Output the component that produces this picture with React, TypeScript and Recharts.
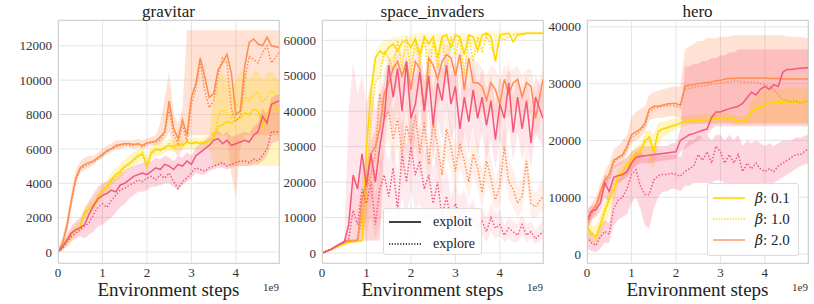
import React from "react";
import { ComposedChart, Line, Area, XAxis, YAxis, CartesianGrid } from "recharts";

// steps in units of 1e9
const steps = [
  0, 0.1, 0.2, 0.3, 0.4, 0.5, 0.6, 0.7, 0.8, 0.9, 1.0, 1.1, 1.2, 1.3, 1.4, 1.5, 1.6, 1.7, 1.8, 1.9, 2.0, 2.1, 2.2, 2.3, 2.4,
  2.5, 2.6, 2.7, 2.8, 2.9, 3.0, 3.1, 3.2, 3.3, 3.4, 3.5, 3.6, 3.7, 3.8, 3.9, 4.0, 4.1, 4.2, 4.3, 4.4, 4.5, 4.6, 4.7, 4.8, 4.97,
];

// all scores below are in thousands
// gravitar
const gravOrangeExploit = [0,0.5,1.5,3.0,4.3,4.9,5.1,5.2,5.3,5.5,5.7,5.9,6.0,6.2,6.25,6.3,6.3,6.25,6.3,6.2,6.35,6.4,6.45,6.7,7.0,8.8,7.2,6.6,7.7,6.8,9.0,9.8,11.3,10.2,9.0,9.2,10.6,11.0,11.5,10.4,8.0,8.2,10.8,12.2,12.4,12.1,12.0,12.5,12.0,11.9];
const gravOrangeExplore = [0,0.5,1.4,2.9,4.2,4.8,5.0,5.1,5.25,5.4,5.6,5.8,6.0,6.1,6.2,6.25,6.2,6.2,6.3,6.1,6.3,6.35,6.4,6.5,6.9,8.3,6.8,6.3,7.4,6.4,8.6,9.5,11.0,9.4,8.4,8.8,10.2,11.3,11.0,8.3,7.6,7.9,10.0,11.4,11.2,11.0,11.6,12.0,11.0,11.6];
const gravYellowExploit = [0,0.3,0.6,1.0,1.3,1.5,2.3,2.5,2.8,3.2,3.6,3.8,4.2,4.5,4.7,5.0,5.1,5.4,5.6,5.7,5.0,5.8,6.0,5.9,6.1,6.2,6.1,6.3,6.2,6.4,6.3,6.4,6.3,6.4,6.5,6.6,7.3,7.4,7.6,7.5,7.7,7.8,8.1,8.0,8.3,8.2,7.3,8.0,8.6,8.2];
const gravYellowExplore = [0,0.3,0.6,0.9,1.2,1.5,2.2,2.4,2.7,3.1,3.5,3.7,4.1,4.4,4.6,4.9,5.2,5.3,5.5,5.8,5.1,5.7,5.9,6.0,6.0,6.3,6.2,6.2,6.3,6.3,6.4,6.3,6.4,6.3,6.4,6.8,7.8,8.3,8.1,7.8,8.6,8.4,9.0,8.8,9.2,9.3,8.7,9.0,9.4,8.9];
const gravPinkExploit = [0,0.3,0.7,1.1,1.3,1.4,1.6,2.2,2.7,3.1,3.3,3.4,3.6,3.5,3.9,4.0,4.2,4.4,4.5,4.6,4.5,4.7,4.9,4.8,5.1,5.0,4.8,5.1,5.0,5.3,5.1,5.6,5.8,6.0,6.2,6.5,6.6,6.3,6.5,6.2,6.3,6.4,6.5,6.4,6.8,7.0,7.9,7.5,8.6,8.8];
const gravPinkExplore = [0,0.2,0.6,0.9,1.1,1.3,1.5,1.7,2.2,2.6,2.8,2.6,3.0,3.3,3.6,3.7,3.9,4.0,4.2,4.1,4.3,4.4,4.2,4.5,4.3,4.6,4.1,3.7,4.1,4.3,4.6,4.9,4.8,4.7,4.9,5.0,5.1,5.2,5.0,5.1,5.2,5.3,5.3,5.2,5.4,5.3,5.6,6.0,7.0,7.0];
const gravOrangeLo = [0,0.3,1.1,2.5,3.9,4.6,4.8,4.9,5.1,5.3,5.5,5.7,5.8,6.0,6.0,6.1,6.1,6.0,6.1,6.0,6.1,6.2,6.2,6.3,6.5,7.0,6.0,5.5,6.0,6.7,6.8,6.8,6.8,6.8,6.8,6.8,6.8,6.8,6.8,4.5,3.2,6.0,6.8,6.8,6.8,6.8,6.8,6.8,6.8,6.8];
const gravOrangeHi = [0.2,0.9,2.0,3.5,4.8,5.3,5.5,5.6,5.6,5.8,6.0,6.2,6.3,6.5,6.5,6.5,6.5,6.5,6.6,6.5,6.6,6.7,6.8,7.5,9.0,10.5,8.0,7.5,8.3,12.9,12.9,12.9,12.9,12.9,12.9,12.9,12.9,12.9,12.9,12.9,12.9,12.9,12.9,12.9,12.9,12.9,12.9,12.9,12.9,12.9];
const gravYellowLo = [0,0.1,0.4,0.7,1.0,1.2,1.9,2.1,2.4,2.8,3.2,3.4,3.8,4.1,4.3,4.6,4.8,5.0,5.2,5.3,4.7,5.4,5.6,5.6,5.8,5.9,5.8,5.9,5.9,6.0,6.0,6.0,6.0,6.1,6.1,5.0,5.0,5.0,5.0,5.0,5.0,5.0,5.0,5.0,5.0,5.0,5.0,5.0,5.0,5.0];
const gravYellowHi = [0.1,0.5,0.9,1.3,1.6,1.8,2.6,2.9,3.1,3.5,3.9,4.2,4.6,4.9,5.1,5.4,5.6,5.8,6.0,6.1,5.6,6.2,6.4,6.3,6.4,6.6,6.5,6.6,6.5,6.7,6.6,6.7,6.6,6.7,6.8,9.0,10.0,10.5,10.0,9.5,10.0,10.5,10.5,10.0,10.5,10.5,10.0,10.5,10.5,10.0];
const gravPinkLo = [0,0.1,0.3,0.6,0.8,0.9,0.8,1.0,1.2,1.5,1.6,1.8,2.0,2.3,2.6,2.8,3.1,3.3,3.5,3.5,3.6,3.8,3.8,3.9,4.0,4.0,3.8,3.6,3.9,4.1,4.3,4.6,4.5,4.5,4.7,4.8,4.9,4.9,4.8,4.9,5.0,5.0,5.0,5.0,5.1,5.1,5.3,5.6,6.3,6.5];
const gravPinkHi = [0.1,0.5,1.0,1.5,1.8,2.0,2.5,3.0,3.4,3.8,4.0,4.1,4.3,4.3,4.6,4.7,4.9,5.0,5.1,5.2,5.2,5.3,5.5,5.4,5.6,5.5,5.3,5.6,5.5,5.8,5.6,6.1,6.3,6.5,6.7,7.0,7.1,6.8,7.0,6.7,6.8,6.9,7.0,6.9,7.3,7.5,8.4,8.0,9.0,9.2];

// space_invaders
const siYellowExploit = [0,0.5,1.0,1.5,2.0,2.5,3.0,3.2,3.3,3.5,30,45,55,57,56,58,59,57,59.5,60,58,60.5,56,61,59,61,55,61,61.5,58,61.5,61,56,61.5,61,57,61.5,62,61,54,61.5,61.8,62,59.5,61.5,61.8,62,62,62,62];
const siYellowExplore = [0,0.5,1.0,1.5,2.0,2.5,3.0,3.2,3.3,3.5,15,38,48,50,57,55,52,60,52,61,50,60,53,61.5,49,60,52,61,50,61,56,61,50,61.5,54,61,57,61.5,58,55,61,60,61,61.5,62,61.5,62,62,62,62];
const siOrangeExploit = [0,0.5,1.0,1.8,2.5,3.3,3.4,3.5,3.6,15,20,28,30,35,45,48,52,54,50,54,46,54,52,40,55,53,49,54,56,55,50,56,46,55,48,48,47,43,48,46,42,49,45,48,49,44,48,47,38,49];
const siOrangeExplore = [0,0.5,1.0,1.8,2.5,3.3,3.4,3.5,3.6,10,18,22,28,45,38,40,32,38,28,36,31,39,28,37,25,37,30,22,35,30,23,31,26,20,28,24,17,26,21,15,19,30,20,18,14,16,26,14,13,16];
const siPinkExploit = [0,0.5,1.0,1.8,2.5,3.0,8,22,18,28,19,28,20,30,38,53,44,52,40,54,38,42,51,40,50,36,48,43,53,42,47,35,44,37,46,38,44,36,43,32,42,38,48,34,44,35,43,31,44,38];
const siPinkExplore = [0,0.5,1.0,1.8,2.5,3.0,4,12,8,18,14,20,8,18,22,16,24,12,28,20,30,22,26,18,22,14,20,10,16,9,14,10,12,8,10,7,9,6,10,7,8,5,7,6,5,8,5,6,4,6];
const siYellowLo = [0,0.3,0.8,1.2,1.7,2.2,2.7,2.9,3.0,3.2,10,34,48,52,54,54,54,56,55,57,54,57,55,58,55,58,55,58,56,58,58,59,56,59,58,58,59,60,59,56,60,60,61,60,61,61,61.5,61.5,61.5,61.5];
const siYellowHi = [0.2,0.8,1.3,1.8,2.3,2.8,3.3,3.5,3.7,4.0,40,50,57,59,60,60,61,61,61.5,61.5,61.5,62,62,62,62,62,62,62,62,62,62,62,62,62,62,62,62,62.5,62.5,62.5,62.5,62.5,62.5,62.5,62.5,62.5,62.5,62.5,62.5,62.5];
const siOrangeExploitLo = [0,0.3,0.8,1.5,2.2,3.0,3.1,3.2,3.3,3.5,3.5,3.5,3.5,3.5,36,40,44,46,42,46,38,46,44,34,46,44,40,46,48,46,42,48,38,46,40,40,40,36,40,38,35,41,38,40,41,37,40,39,32,41];
const siOrangeExploitHi = [0.2,0.8,1.3,2.1,2.9,3.6,3.8,3.9,4.0,22,28,32,34,40,52,54,56,58,56,58,54,58,57,50,58,57,55,58,59,58,56,58,54,58,54,54,52,50,53,52,49,53,51,52,53,50,52,52,45,52];
const siOrangeExploreLo = [0,0.3,0.8,1.5,2.2,3.0,3.1,3.2,3.3,5,10,14,20,35,30,32,25,30,21,28,24,30,21,29,18,29,23,16,27,23,17,24,20,15,22,18,12,20,16,11,14,23,15,13,10,12,20,10,10,12];
const siOrangeExploreHi = [0.2,0.8,1.3,2.1,2.9,3.6,3.8,3.9,4.0,16,26,30,36,52,46,48,40,46,36,44,38,47,36,45,32,45,37,29,43,37,30,38,33,26,35,31,23,33,27,20,25,37,26,24,19,21,33,19,17,21];
const siPinkExploitLo = [0,0.3,0.8,1.5,2.2,2.7,3.0,3.5,3.5,3.5,3.5,3.5,3.5,3.5,28,40,34,40,30,42,28,32,40,30,40,26,38,32,42,32,36,26,34,28,36,28,34,26,32,24,32,28,36,26,34,26,32,24,34,30];
const siPinkExploitHi = [0.2,0.8,1.3,2.1,2.8,3.4,40,54,45,50,42,48,40,45,48,56,52,56,50,56,48,50,56,48,55,46,55,52,56,50,54,44,52,46,54,47,52,46,50,42,50,46,54,44,50,45,50,42,50,46];
const siPinkExploreLo = [0,0.3,0.8,1.5,2.2,2.7,3.0,4,4,8,6,10,4,8,12,8,14,6,16,10,18,12,14,10,12,8,10,5,8,5,8,6,7,4,6,4,5,3,6,4,5,3,4,3,3,5,3,4,2.5,4];
const siPinkExploreHi = [0.2,0.8,1.3,2.1,2.8,3.4,8,20,16,26,22,28,16,26,30,26,32,22,38,30,40,32,36,28,30,24,30,18,24,16,20,16,18,13,15,11,13,10,14,11,12,8,10,9,8,11,8,9,6.5,9];

// hero
const heroOrangeExploit = [5.5,7.5,8.5,11,13,14,16.5,17,17.5,19,21,21.5,22,23,25.5,26,26,26.2,26.4,26.5,26.5,26.2,29.5,29.7,29.8,30,30.1,30.2,30.3,30.5,30.6,30.8,30.9,30.9,31,31,31,31,31,31,31,30.9,30.9,30.9,30.8,30.8,30.8,30.8,30.8,30.8];
const heroOrangeExplore = [5,7,8.2,10.5,12.5,13.5,16,16.8,17.2,18.5,20.5,21,21.7,22.5,25,25.6,25.8,26,26.1,26.2,26,25.8,29,29.2,29.3,29.5,29.6,29.7,29.9,30,30.1,30.2,30.3,30.4,30.4,30.3,30.3,30.3,30.2,30,29.8,29.5,29,28,27.2,27,26.8,27,26.6,27];
const heroYellowExploit = [5,3.5,3,5,7.5,9.5,11,13.5,14.5,15.5,16.5,17.5,18,20,20.5,18,21.5,22,22.2,22.5,22.7,23,23.3,23.5,23.5,23.6,23.6,23.7,23.8,23.8,23.9,24,24,23.6,23.4,23.4,23.5,25,25.5,25.8,26.2,26.5,26.6,26.7,26.7,26.8,26.7,26.8,26.7,26.8];
const heroYellowExplore = [4.5,3.8,3.2,5.5,8,10,11.5,13.8,14.8,15.8,16.8,17.8,18.2,19.5,20.8,18.2,21.6,22.1,22.3,22.6,22.8,23.1,23.3,23.4,23.5,23.6,23.7,23.7,23.8,23.9,24,24,24.1,23.7,23.5,23.5,23.6,25.2,25.7,26,26.4,26.7,26.8,26.9,27.2,27,26.9,27,26.9,27];
const heroPinkExploit = [6,7.5,7.8,9,12.5,11,13.5,13.8,14,14.5,16,17,17.2,17.3,17.4,17.5,17.6,17.7,17.8,17.9,18,20,20.5,21,21.2,21.5,21.8,22,24,25,25,25.3,25.6,25.8,26,26.5,27.5,28.5,28,29,29.5,29,29.8,29.5,32,32.5,32.5,32.6,32.7,32.8];
const heroPinkExplore = [3,2,1.5,3,4,3.5,8,9.5,10,11.5,14,14.8,12,10.5,10.5,13,13.8,14,14,14.2,14,13.7,14.5,15,15.5,17.5,16.5,18,16,19,18,16,17.5,16,17.5,14.5,16,15,16,15,14.5,15,14.5,15.5,16,16.5,17,17.5,17.5,18.5];
const heroOrangeLo = [4,6,7,9.5,11.5,12.5,15,15.5,16,17.5,19.5,20,20.5,21.5,23.5,23.8,24,24,24.2,24.3,24.2,24,23,23,23,23,23,23,23,23,23,23,23,23,23,23,23,23,23,23,23,23,23,23,23,23,23,23,23,23];
const heroOrangeHi = [7,9,10,12.5,14.5,16,18.5,19,20,21,24,25,25.5,26,28,28.5,28.7,29,29.2,29.4,29.5,29.5,36,36.5,37,37.5,37.5,38,38,38,38.2,38.3,38.3,38.5,38.5,38.5,38.5,38.5,38.5,38.5,38.5,38.5,38.5,38.5,38.5,38.3,38.3,38.2,38.2,38];
const heroYellowLo = [3,2,1.8,3,5,7,9,12,13,14,15,16,16.5,17.5,16,15,19,20.5,21,21.5,22,22.3,22.5,22.8,22.8,22.9,22.9,23,23,23,23.1,23.2,23.2,22.8,22.7,22.7,22.8,23,23,23,23,23,23,23,23,23,23,23,23,23];
const heroYellowHi = [7,5,5,7,9.5,11.5,13,15,16,17,18,19,19.5,21.5,22,21,23,23.3,23.5,23.7,23.9,24.1,24.3,24.4,24.5,24.5,24.6,24.6,24.7,24.7,24.8,24.8,24.8,24.5,24.3,24.3,24.5,27,28,28.5,29,29,29,29,29,29.3,29.3,29.3,29.3,29.3];
const heroPinkExploitLo = [4,6,6.5,7.5,10,9,12,12.5,13,13.5,14.5,15.5,16,16,16,16.2,16.3,16.4,16.5,16.6,16.8,18,18.5,19,19.5,20,20.5,21,22,22.5,22.5,22.5,22.5,22.5,22.5,22.5,22.5,22.5,22.5,22.5,22.5,22.5,22.5,22.5,22.5,22.5,22.5,22.5,22.5,22.5];
const heroPinkExploitHi = [8,8.5,9,11,14,13.5,15.5,16,16.5,17,18,18.5,19,19,19,19,19,19,19,19.5,19.5,22,33,33,33.5,33.5,34,34,34.5,34.5,35,35,35.5,35.5,36,36,36,36,36,36,36,36,36,36,36,36,36,36,36,36];
const heroPinkExploreLo = [1,0.5,0.3,1,2,2,5,6,6.5,7,9,10,8,5,4.5,8,10,11,11,11.5,11.5,11,12,12,12.5,12.5,12.5,12.5,12.5,13,13,12.5,12.5,12.5,12.5,12,12.5,12.5,12.5,12.5,12.5,12.5,12.5,13,13.5,14,14.5,15,15.5,16];
const heroPinkExploreHi = [5,4,3,5,6,5.5,11,13,14,15,17,18,18,17,17,18,17.5,17.5,17.5,17.5,17.5,17,19,20,20,21,20.5,21,20,21,21,20,21,20,21,19,20,19.5,20,19.5,19,19.5,19,19.5,20,20,20,20.5,20.5,21];

const xTicks = [0, 1, 2, 3, 4];
const gravTicks = [0, 2000, 4000, 6000, 8000, 10000, 12000];
const siTicks = [0, 10000, 20000, 30000, 40000, 50000, 60000];
const heroTicks = [0, 10000, 20000, 30000, 40000];

const YELLOW = "#FFD700";
const ORANGE = "#FF8C50";
const PINK = "#F5577A";
const FONT = "'Liberation Serif', 'Times New Roman', Times, serif";

type Band = { lo: number[]; hi: number[]; color: string; alpha?: number };
type Series = { v: number[]; color: string; dotted?: boolean };

function buildRows(bands: Band[], series: Series[]) {
  return steps.map((x, i) => {
    const row: Record<string, any> = { x };
    bands.forEach((b, j) => (row["b" + j] = [b.lo[i] * 1000, b.hi[i] * 1000]));
    series.forEach((s, j) => (row["s" + j] = s.v[i] * 1000));
    return row;
  });
}

const CW = 284;
const CH = 304;
const YW = 58;
const TOP = 20;
const BOTTOM = 263;

function Panel({ left, title, bands, series, yDomain, yTicks }: {
  left: number; title: string; bands: Band[]; series: Series[]; yDomain: [number, number]; yTicks: number[];
}) {
  const rows = buildRows(bands, series);
  const plotL = left + YW;
  const plotW = CW - YW - 5;
  const tick = { fontSize: 13, fill: "#333", fontFamily: FONT };
  return (
    <>
      <div style={{ position: "absolute", left, top: 0 }}>
        <ComposedChart width={CW} height={CH} data={rows} margin={{ top: TOP, right: 5, bottom: 0, left: 0 }}>
          <CartesianGrid stroke="#e4e4e4" strokeWidth={1} />
          <XAxis dataKey="x" type="number" domain={[0, 4.97]} ticks={xTicks} allowDataOverflow
            height={CH - BOTTOM} tickSize={0} tickMargin={5} axisLine={false} tick={tick} interval={0} />
          <YAxis type="number" domain={yDomain} ticks={yTicks} allowDataOverflow width={YW}
            tickSize={0} tickMargin={6} axisLine={false} tick={tick} interval={0} />
          {bands.map((b, j) => (
            <Area key={"b" + j} dataKey={"b" + j} type="linear" stroke="none" fill={b.color}
              fillOpacity={b.alpha ?? 0.25} isAnimationActive={false} dot={false} activeDot={false} />
          ))}
          {series.map((s, j) => (
            <Line key={"s" + j} dataKey={"s" + j} type="linear" stroke={s.color} strokeWidth={1.5}
              strokeDasharray={s.dotted ? "1.5 1.8" : undefined} dot={false} activeDot={false}
              isAnimationActive={false} />
          ))}
        </ComposedChart>
      </div>
      <div style={{ position: "absolute", left: plotL, top: TOP, width: plotW - 1, height: BOTTOM - TOP - 1,
        border: "1px solid #d2d2d2", pointerEvents: "none" }} />
      <div style={{ position: "absolute", left: plotL, width: plotW, top: 1, lineHeight: "22px", fontSize: 17,
        textAlign: "center", fontFamily: FONT, color: "#222" }}>{title}</div>
      <div style={{ position: "absolute", left: plotL, width: plotW, top: 279, lineHeight: "22px", fontSize: 19,
        textAlign: "center", fontFamily: FONT, color: "#222" }}>Environment steps</div>
      <div style={{ position: "absolute", left: plotL + plotW - 30, width: 30, top: 280, lineHeight: "14px",
        fontSize: 11, textAlign: "right", fontFamily: FONT, color: "#333" }}>1e9</div>
    </>
  );
}

function LegendLine({ color, dotted }: { color: string; dotted?: boolean }) {
  return (
    <svg width={32} height={6} style={{ display: "block" }}>
      <line x1={0} y1={3} x2={32} y2={3} stroke={color} strokeWidth={1.6}
        strokeDasharray={dotted ? "1.2 1.6" : undefined} />
    </svg>
  );
}

const boxStyle: React.CSSProperties = {
  position: "absolute", background: "rgba(255,255,255,0.85)", border: "1px solid #dcdcdc", borderRadius: 3,
  fontFamily: FONT, color: "#222", boxSizing: "border-box",
};

export default function App() {
  const grav = (
    <Panel left={0} title="gravitar" yDomain={[-640, 13500]} yTicks={gravTicks}
      bands={[
        { lo: gravOrangeLo, hi: gravOrangeHi, color: ORANGE },
        { lo: gravYellowLo, hi: gravYellowHi, color: YELLOW },
        { lo: gravPinkLo, hi: gravPinkHi, color: PINK },
      ]}
      series={[
        { v: gravYellowExplore, color: YELLOW, dotted: true },
        { v: gravYellowExploit, color: YELLOW },
        { v: gravOrangeExplore, color: ORANGE, dotted: true },
        { v: gravOrangeExploit, color: ORANGE },
        { v: gravPinkExplore, color: PINK, dotted: true },
        { v: gravPinkExploit, color: PINK },
      ]} />
  );
  const si = (
    <Panel left={264} title="space_invaders" yDomain={[-2820, 65730]} yTicks={siTicks}
      bands={[
        { lo: siYellowLo, hi: siYellowHi, color: YELLOW, alpha: 0.18 },
        { lo: siOrangeExploitLo, hi: siOrangeExploitHi, color: ORANGE, alpha: 0.15 },
        { lo: siOrangeExploreLo, hi: siOrangeExploreHi, color: ORANGE, alpha: 0.12 },
        { lo: siPinkExploitLo, hi: siPinkExploitHi, color: PINK, alpha: 0.15 },
        { lo: siPinkExploreLo, hi: siPinkExploreHi, color: PINK, alpha: 0.12 },
      ]}
      series={[
        { v: siYellowExplore, color: YELLOW, dotted: true },
        { v: siYellowExploit, color: YELLOW },
        { v: siOrangeExplore, color: ORANGE, dotted: true },
        { v: siOrangeExploit, color: ORANGE },
        { v: siPinkExplore, color: PINK, dotted: true },
        { v: siPinkExploit, color: PINK },
      ]} />
  );
  const hero = (
    <Panel left={529} title="hero" yDomain={[-1580, 41200]} yTicks={heroTicks}
      bands={[
        { lo: heroOrangeLo, hi: heroOrangeHi, color: ORANGE },
        { lo: heroYellowLo, hi: heroYellowHi, color: YELLOW },
        { lo: heroPinkExploitLo, hi: heroPinkExploitHi, color: PINK },
        { lo: heroPinkExploreLo, hi: heroPinkExploreHi, color: PINK },
      ]}
      series={[
        { v: heroYellowExplore, color: YELLOW, dotted: true },
        { v: heroYellowExploit, color: YELLOW },
        { v: heroOrangeExplore, color: ORANGE, dotted: true },
        { v: heroOrangeExploit, color: ORANGE },
        { v: heroPinkExplore, color: PINK, dotted: true },
        { v: heroPinkExploit, color: PINK },
      ]} />
  );
  return (
    <div style={{ position: "absolute", left: 0, top: 0, width: 814, height: 304, background: "#fff", overflow: "hidden" }}>
      {grav}
      {si}
      {hero}
      <div style={{ ...boxStyle, left: 383, top: 208, width: 99, height: 47, fontSize: 14 }}>
        {[{ t: "exploit", d: false }, { t: "explore", d: true }].map((r, i) => (
          <div key={r.t} style={{ position: "absolute", left: 5, top: 4 + i * 22, height: 18, display: "flex", alignItems: "center" }}>
            <LegendLine color="#111" dotted={r.d} />
            <span style={{ marginLeft: 12 }}>{r.t}</span>
          </div>
        ))}
      </div>
      <div style={{ ...boxStyle, left: 707, top: 183, width: 92, height: 73, fontSize: 15 }}>
        {[{ t: "0.1", c: YELLOW, d: false }, { t: "1.0", c: YELLOW, d: true }, { t: "2.0", c: "#FFA07A", d: false }].map((r, i) => (
          <div key={r.t} style={{ position: "absolute", left: 5, top: 5 + i * 21, height: 18, display: "flex", alignItems: "center" }}>
            <LegendLine color={r.c} dotted={r.d} />
            <span style={{ marginLeft: 10 }}><i style={{ fontFamily: "'DejaVu Serif', serif", fontSize: 14 }}>β</i>: {r.t}</span>
          </div>
        ))}
      </div>
    </div>
  );
}
